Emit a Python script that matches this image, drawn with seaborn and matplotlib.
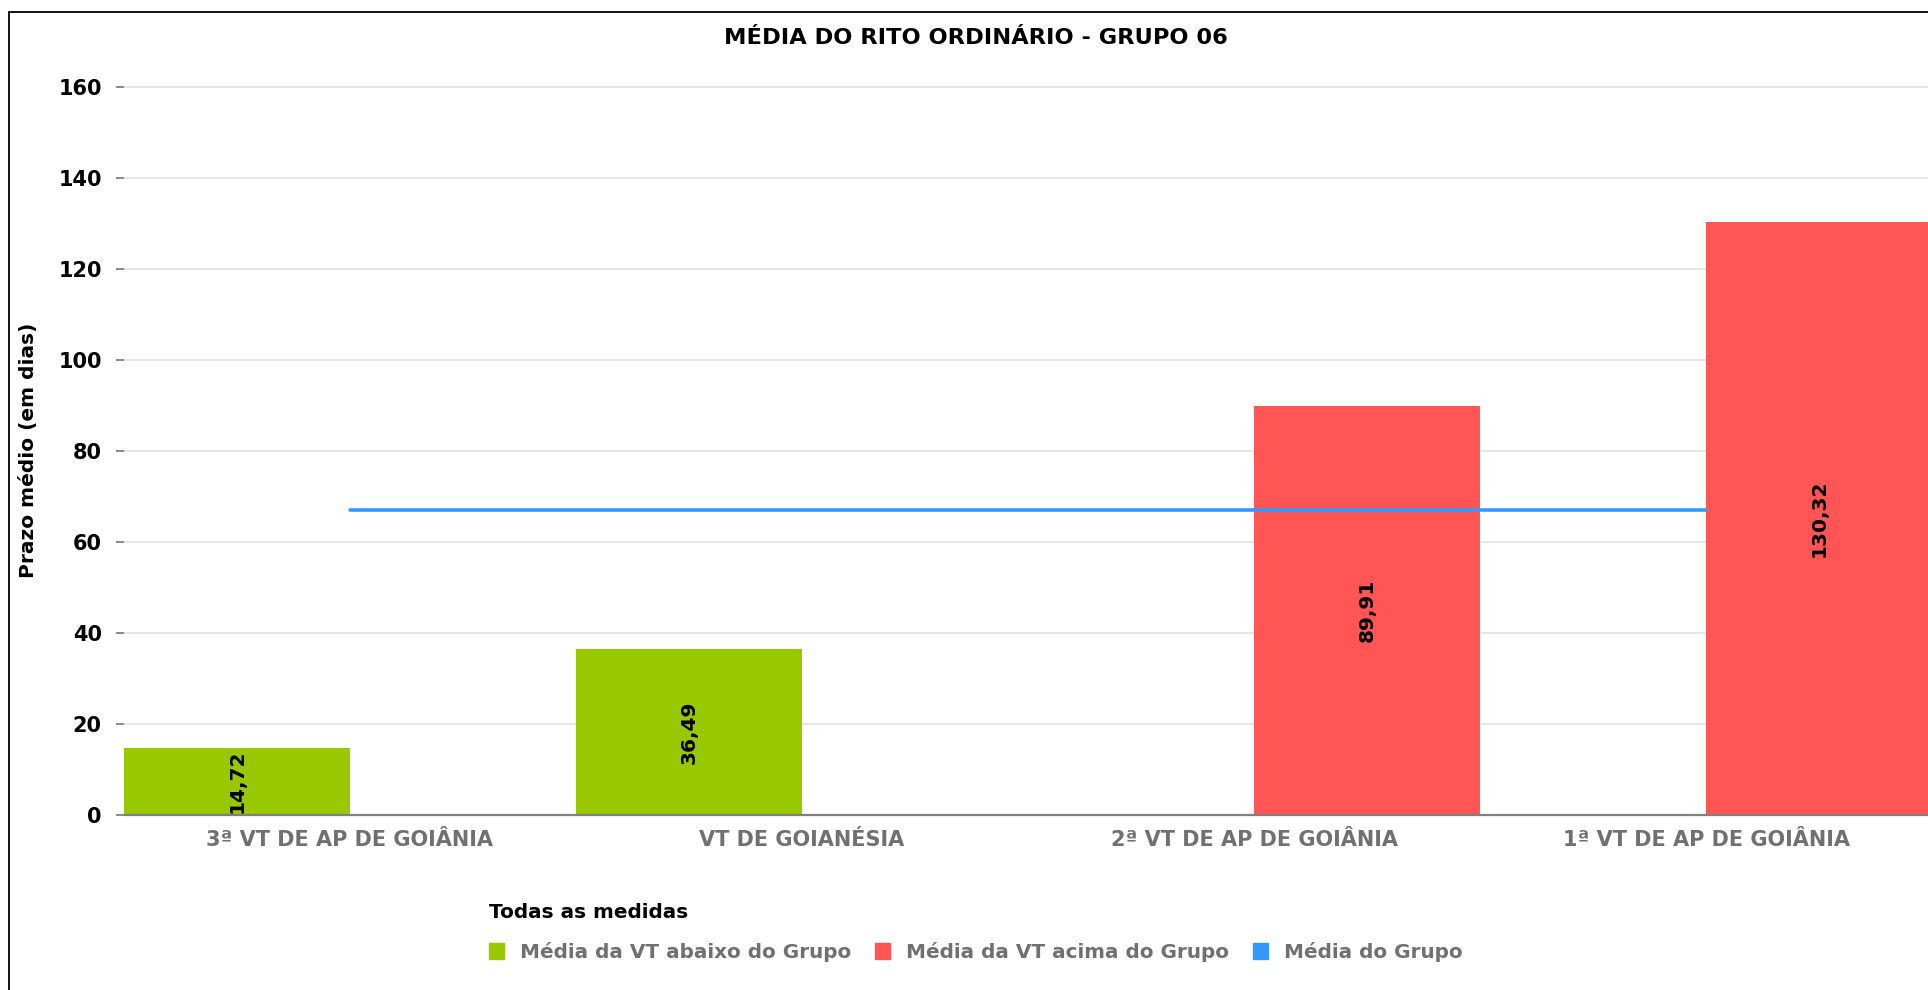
import numpy as np
import pandas as pd
import matplotlib
matplotlib.use("Agg")
import matplotlib.pyplot as plt
import matplotlib.patches as mpatches
import seaborn as sns

# dados do grafico
varas = ["3ª VT DE AP DE GOIÂNIA", "VT DE GOIANÉSIA",
         "2ª VT DE AP DE GOIÂNIA", "1ª VT DE AP DE GOIÂNIA"]
prazos = [14.72, 36.49, 89.91, 130.32]
abaixo = "Média da VT abaixo do Grupo"
acima = "Média da VT acima do Grupo"
situacao = [abaixo, abaixo, acima, acima]
media_grupo = 67.0
rotulo_media = "Média do Grupo"

verde = "#97C800"
vermelho = "#FF5555"
azul = "#3399FF"
cinza = "#707070"

sns.set_style("white")
plt.rcParams["font.family"] = ["DejaVu Sans"]
plt.rcParams["text.color"] = "black"
plt.rcParams["axes.labelcolor"] = "black"

df = pd.DataFrame({"vara": varas, "prazo": prazos, "situacao": situacao})

fig = plt.figure(figsize=(19.28, 9.90), dpi=100)
ax = fig.add_axes([0.0643, 0.1768, 0.9378, 0.7586])

sns.barplot(data=df, x="vara", y="prazo", hue="situacao", order=varas,
            hue_order=[abaixo, acima], palette=[verde, vermelho],
            width=1.0, dodge=True, saturation=1, linewidth=0,
            legend=False, ax=ax, zorder=2)

# linha da media do grupo, do centro da primeira ao centro da ultima vara
pos = np.arange(len(varas))
ax.plot(pos, [media_grupo] * len(varas), color=azul, lw=2.6, zorder=3)

# rotulos dentro das barras
for c in ax.containers:
    ax.bar_label(c, fmt=lambda v: f"{v:.2f}".replace(".", ","),
                 label_type="center", rotation=90, fontsize=14.5,
                 fontweight="bold", color="black", zorder=4)

ax.set_ylim(0, 165)
ax.set_yticks(np.arange(0, 161, 20))
ax.set_xlim(-0.5, len(varas) - 0.5)
ax.grid(axis="y", color="#e6e6e6", lw=1.4, zorder=0)
ax.set_axisbelow(True)

for s in ["top", "right", "left"]:
    ax.spines[s].set_visible(False)
ax.spines["bottom"].set_color("#808080")
ax.spines["bottom"].set_linewidth(1.6)
ax.spines["bottom"].set_zorder(5)

ax.set_xticks(pos)
ax.set_xticklabels(varas)
ax.set_xticks(np.arange(len(varas) + 1) - 0.5, minor=True)
ax.tick_params(axis="x", which="major", length=0, pad=11, labelsize=15,
               labelcolor=cinza)
ax.tick_params(axis="x", which="minor", length=7, width=1.3, color="#808080",
               direction="out")
for t in ax.get_xticklabels():
    t.set_fontweight("bold")

ax.tick_params(axis="y", which="major", length=6, width=1.3, color="#808080",
               pad=10, labelsize=15, labelcolor="black", left=True)
for t in ax.get_yticklabels():
    t.set_fontweight("bold")

ax.set_xlabel("")
ax.set_ylabel("Prazo médio (em dias)", fontsize=14.5, fontweight="bold")
ax.yaxis.set_label_coords(-0.0475, 0.486)

fig.text(0.506, 1 - 38 / 990, "MÉDIA DO RITO ORDINÁRIO - GRUPO 06",
         ha="center", va="center", fontsize=16.2, fontweight="bold",
         color="black")

handles = [mpatches.Patch(color=verde, label=abaixo),
           mpatches.Patch(color=vermelho, label=acima),
           mpatches.Patch(color=azul, label=rotulo_media)]
leg = fig.legend(handles=handles, loc="center", bbox_to_anchor=(0.506, 0.058),
                 ncol=3, frameon=False, title="Todas as medidas",
                 alignment="left", fontsize=14.4, labelcolor=cinza,
                 handlelength=0.75, handleheight=0.85, handletextpad=0.8,
                 columnspacing=1.2, borderpad=0.4, labelspacing=1.0,
                 title_fontproperties={"weight": "bold", "size": 14.4})
for t in leg.get_texts():
    t.set_fontweight("bold")
leg.get_title().set_color("black")

# moldura do grafico
fig.patches.append(mpatches.Rectangle((9 / 1928, -0.2), 1.2, 0.2 + 1 - 12 / 990,
                                      transform=fig.transFigure, fill=False,
                                      edgecolor="black", lw=1.3))

fig.savefig("out.png", dpi=100)
